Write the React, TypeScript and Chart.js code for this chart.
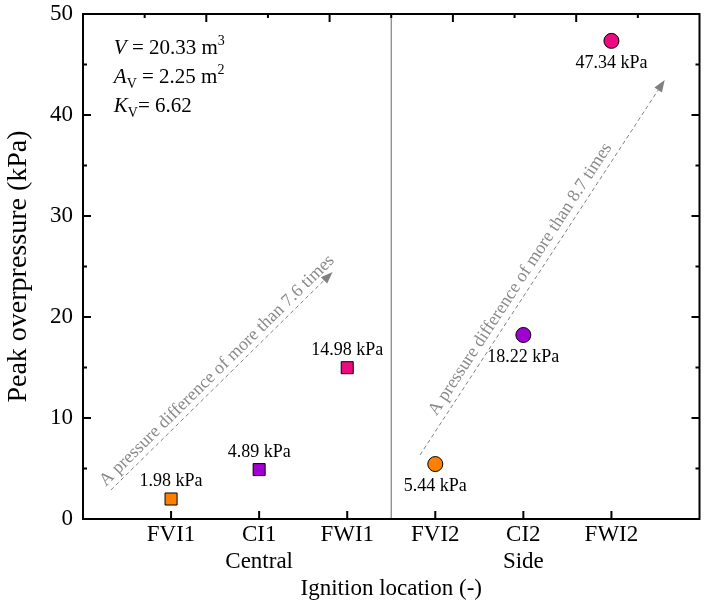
import React, { useEffect, useRef } from 'react';
import { Chart, registerables } from 'chart.js';

Chart.register(...registerables);

const SERIF = '"Liberation Serif", "Times New Roman", serif';

// ---- data ----
const categories = ['FVI1', 'CI1', 'FWI1', 'FVI2', 'CI2', 'FWI2'];
const groupNames = ['', 'Central', '', '', 'Side', ''];
const centralX = [0, 1, 2];
const centralValues = [1.98, 4.89, 14.98];
const sideX = [3, 4, 5];
const sideValues = [5.44, 18.22, 47.34];
const markerColors = ['#FF8000', '#A000D0', '#EC0A80'];
const yMajorTicks = [0, 10, 20, 30, 40, 50];
const yMinorTicks = [5, 15, 25, 35, 45];
const topMajorTicks = [2, 4, 6, 8];
const topMinorTicks = [1, 3, 5, 7, 9];
const separatorX = 2.5;

// arrow annotations (data units)
const arrowTexts = [
  'A pressure difference of more than 7.6 times',
  'A pressure difference of more than 8.7 times',
];
const arrowStarts = [[-0.684, 2.87], [2.827, 6.34]];
const arrowEnds = [[1.834, 24.46], [5.605, 43.47]];
const arrowTextAlong = [4, -22];
const arrowTextPerp = [10.6, 12];

// parameter box
const infoAnchor = [-0.65, 46.0];

const overlayPlugin = {
  id: 'overlay',
  beforeDatasetsDraw(chart: any) {
    const { ctx, chartArea: a, scales } = chart;
    const xs = scales.x, ys = scales.y;
    ctx.save();
    const sx = xs.getPixelForValue(separatorX);
    ctx.strokeStyle = '#808080';
    ctx.lineWidth = 1.2;
    ctx.beginPath();
    ctx.moveTo(sx, a.top);
    ctx.lineTo(sx, a.bottom);
    ctx.stroke();

    arrowStarts.forEach((st, i) => {
      const x0 = xs.getPixelForValue(st[0]);
      const y0 = ys.getPixelForValue(st[1]);
      const x1 = xs.getPixelForValue(arrowEnds[i][0]);
      const y1 = ys.getPixelForValue(arrowEnds[i][1]);
      const ang = Math.atan2(y1 - y0, x1 - x0);
      const ux = Math.cos(ang), uy = Math.sin(ang);
      const headLen = 12, headW = 4.5;
      const bx = x1 - ux * headLen, by = y1 - uy * headLen;
      ctx.strokeStyle = '#808080';
      ctx.lineWidth = 1;
      ctx.setLineDash([4, 3]);
      ctx.beginPath();
      ctx.moveTo(x0, y0);
      ctx.lineTo(bx, by);
      ctx.stroke();
      ctx.setLineDash([]);
      ctx.fillStyle = '#808080';
      ctx.beginPath();
      ctx.moveTo(x1, y1);
      ctx.lineTo(bx - uy * headW, by + ux * headW);
      ctx.lineTo(bx + uy * headW, by - ux * headW);
      ctx.closePath();
      ctx.fill();

      const mx = (x0 + x1) / 2 + ux * arrowTextAlong[i] + uy * arrowTextPerp[i];
      const my = (y0 + y1) / 2 + uy * arrowTextAlong[i] - ux * arrowTextPerp[i];
      ctx.save();
      ctx.translate(mx, my);
      ctx.rotate(ang);
      ctx.font = `18px ${SERIF}`;
      ctx.fillStyle = '#8a8a8a';
      ctx.textAlign = 'center';
      ctx.textBaseline = 'middle';
      ctx.fillText(arrowTexts[i], 0, 0);
      ctx.restore();
    });
    ctx.restore();
  },
  afterDatasetsDraw(chart: any) {
    const { ctx, scales } = chart;
    const xs = scales.x, ys = scales.y;
    ctx.save();
    ctx.font = `18px ${SERIF}`;
    ctx.fillStyle = '#000';
    ctx.textAlign = 'center';
    ctx.textBaseline = 'alphabetic';
    centralValues.forEach((v, i) => {
      const px = xs.getPixelForValue(centralX[i]);
      const py = ys.getPixelForValue(v);
      ctx.fillText(`${v.toFixed(2)} kPa`, px, py - 13);
    });
    sideValues.forEach((v, i) => {
      const px = xs.getPixelForValue(sideX[i]);
      const py = ys.getPixelForValue(v);
      ctx.fillText(`${v.toFixed(2)} kPa`, px, py + 27);
    });

    const ax = xs.getPixelForValue(infoAnchor[0]);
    const ay = ys.getPixelForValue(infoAnchor[1]);
    const main = 21, small = 14;
    const lines = [
      [
        { t: 'V', it: true, s: main, dy: 0 },
        { t: ' = 20.33 m', it: false, s: main, dy: 0 },
        { t: '3', it: false, s: small, dy: -9 },
      ],
      [
        { t: 'A', it: true, s: main, dy: 0 },
        { t: 'V', it: false, s: small, dy: 5 },
        { t: ' = 2.25 m', it: false, s: main, dy: 0 },
        { t: '2', it: false, s: small, dy: -9 },
      ],
      [
        { t: 'K', it: true, s: main, dy: 0 },
        { t: 'V', it: false, s: small, dy: 5 },
        { t: '= 6.62', it: false, s: main, dy: 0 },
      ],
    ];
    ctx.textAlign = 'left';
    lines.forEach((segs, li) => {
      let cx = ax;
      const by = ay + li * 29;
      segs.forEach((sg) => {
        ctx.font = `${sg.it ? 'italic ' : ''}${sg.s}px ${SERIF}`;
        ctx.fillText(sg.t, cx, by + sg.dy);
        cx += ctx.measureText(sg.t).width;
      });
    });
    ctx.restore();
  },
  afterDraw(chart: any) {
    const { ctx, chartArea: a, scales } = chart;
    const xs = scales.x, ys = scales.y, xt = scales.x2;
    ctx.save();
    ctx.strokeStyle = '#000';
    ctx.lineWidth = 2;
    ctx.strokeRect(a.left, a.top, a.right - a.left, a.bottom - a.top);
    ctx.beginPath();
    const major = 8, minor = 4;
    yMajorTicks.forEach((v) => {
      const py = ys.getPixelForValue(v);
      ctx.moveTo(a.left, py); ctx.lineTo(a.left + major, py);
      ctx.moveTo(a.right, py); ctx.lineTo(a.right - major, py);
    });
    yMinorTicks.forEach((v) => {
      const py = ys.getPixelForValue(v);
      ctx.moveTo(a.left, py); ctx.lineTo(a.left + minor, py);
      ctx.moveTo(a.right, py); ctx.lineTo(a.right - minor, py);
    });
    categories.forEach((_, i) => {
      const px = xs.getPixelForValue(i);
      ctx.moveTo(px, a.bottom); ctx.lineTo(px, a.bottom - major);
    });
    topMajorTicks.forEach((v) => {
      const px = xt.getPixelForValue(v);
      ctx.moveTo(px, a.top); ctx.lineTo(px, a.top + major);
    });
    topMinorTicks.forEach((v) => {
      const px = xt.getPixelForValue(v);
      ctx.moveTo(px, a.top); ctx.lineTo(px, a.top + minor);
    });
    ctx.stroke();
    ctx.restore();
  },
};

const noPad = (s: any) => {
  s.paddingTop = 0;
  s.paddingBottom = 0;
  s.paddingLeft = 0;
  s.paddingRight = 0;
};

export default function App() {
  const ref = useRef<HTMLCanvasElement | null>(null);
  useEffect(() => {
    document.body.style.margin = '0';
    const canvas = ref.current;
    if (!canvas) return;
    const chart = new Chart(canvas, {
      type: 'scatter',
      data: {
        datasets: [
          {
            label: 'Central',
            data: centralX.map((x, i) => ({ x, y: centralValues[i] })),
            pointStyle: 'rect',
            pointRadius: 8.5,
            backgroundColor: markerColors,
            borderColor: '#000',
            borderWidth: 1,
          },
          {
            label: 'Side',
            data: sideX.map((x, i) => ({ x, y: sideValues[i] })),
            pointStyle: 'circle',
            pointRadius: 7.5,
            backgroundColor: markerColors,
            borderColor: '#000',
            borderWidth: 1,
          },
        ],
      },
      options: {
        responsive: false,
        animation: false,
        devicePixelRatio: 1,
        events: [],
        layout: { padding: 0 },
        plugins: { legend: { display: false }, tooltip: { enabled: false } },
        scales: {
          x: {
            type: 'linear',
            position: 'bottom',
            min: -1,
            max: 6,
            afterBuildTicks: (s: any) => {
              s.ticks = categories.map((_, i) => ({ value: i }));
            },
            ticks: {
              autoSkip: false,
              maxRotation: 0,
              padding: 2,
              color: '#000',
              font: { family: SERIF, size: 23 },
              callback: (v: any) => {
                const i = Math.round(Number(v));
                return groupNames[i] ? [categories[i], groupNames[i]] : categories[i];
              },
            },
            grid: { display: false, drawTicks: false, tickLength: 0 },
            border: { display: false },
            title: {
              display: true,
              text: 'Ignition location (-)',
              color: '#000',
              font: { family: SERIF, size: 23 },
              padding: 0,
            },
            afterFit: (s: any) => { s.height = 84; noPad(s); },
          },
          x2: {
            type: 'linear',
            position: 'top',
            min: 0,
            max: 10,
            ticks: { display: false },
            grid: { display: false, drawTicks: false, tickLength: 0 },
            border: { display: false },
            afterFit: (s: any) => { s.height = 14; noPad(s); },
          },
          y: {
            type: 'linear',
            position: 'left',
            min: 0,
            max: 50,
            afterBuildTicks: (s: any) => {
              s.ticks = yMajorTicks.map((v) => ({ value: v }));
            },
            ticks: { padding: 10, color: '#000', font: { family: SERIF, size: 23 } },
            grid: { display: false, drawTicks: false, tickLength: 0 },
            border: { display: false },
            title: {
              display: true,
              text: 'Peak overpressure (kPa)',
              color: '#000',
              font: { family: SERIF, size: 28 },
              padding: 2,
            },
            afterFit: (s: any) => { s.width = 83; noPad(s); },
          },
          y2: {
            type: 'linear',
            position: 'right',
            min: 0,
            max: 50,
            ticks: { display: false },
            grid: { display: false, drawTicks: false, tickLength: 0 },
            border: { display: false },
            afterFit: (s: any) => { s.width = 6; noPad(s); },
          },
        },
      },
      plugins: [overlayPlugin],
    } as any);
    return () => chart.destroy();
  }, []);
  return <canvas ref={ref} width={709} height={603} style={{ display: 'block' }} />;
}
